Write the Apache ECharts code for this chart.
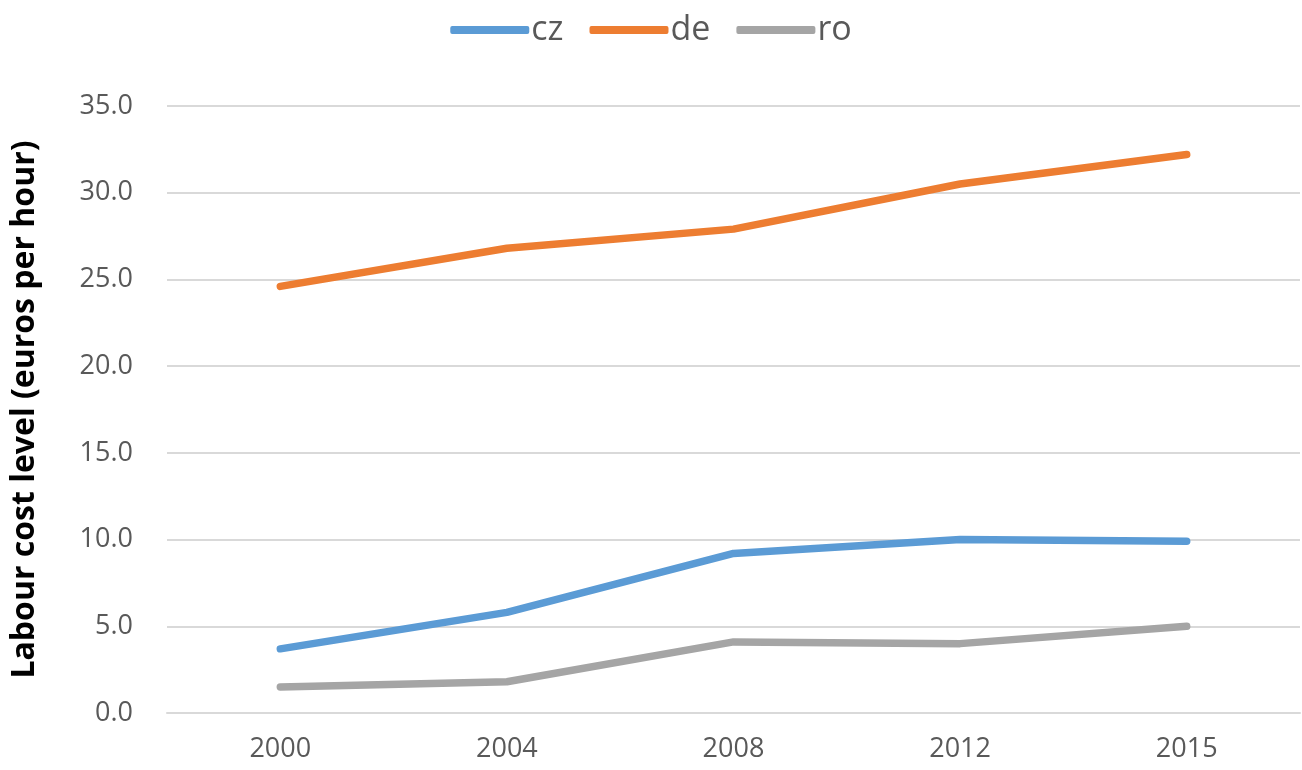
<!DOCTYPE html>
<html>
<head>
<meta charset="utf-8">
<script src="https://cdn.jsdelivr.net/npm/echarts@6/dist/echarts.min.js"></script>
<style>
html,body{margin:0;padding:0;background:#fff;}
#chart{width:1302px;height:770px;}
</style>
</head>
<body>
<div id="chart"></div>
<script>
const categories = ['2000', '2004', '2008', '2012', '2015'];
const cz = [3.7, 5.8, 9.2, 10.0, 9.9];
const de = [24.6, 26.8, 27.9, 30.5, 32.2];
const ro = [1.5, 1.8, 4.1, 4.0, 5.0];
const yTicks = { min: 0, max: 35, interval: 5 };

const FONT = '"Open Sans", "Liberation Sans", sans-serif';
const chart = echarts.init(document.getElementById('chart'), null, { renderer: 'canvas' });

function lineSeries(name, data, color) {
  return {
    name: name,
    type: 'line',
    data: data,
    showSymbol: false,
    symbol: 'none',
    smooth: false,
    lineStyle: { color: color, width: 7.5, cap: 'round', join: 'round' },
    itemStyle: { color: color },
    animation: false
  };
}

chart.setOption({
  backgroundColor: '#ffffff',
  animation: false,
  legend: {
    top: 8,
    left: 'center',
    icon: 'roundRect',
    itemWidth: 79,
    itemHeight: 8,
    itemGap: 26,
    textStyle: { fontFamily: FONT, fontSize: 34, color: '#595959', padding: [0, 0, 0, -3] },
    data: ['cz', 'de', 'ro']
  },
  grid: { left: 167, right: 2, top: 106, bottom: 57, containLabel: false },
  xAxis: {
    type: 'category',
    data: categories,
    boundaryGap: true,
    axisLine: { show: true, lineStyle: { color: '#D9D9D9', width: 2 } },
    axisTick: { show: false },
    axisLabel: { fontFamily: FONT, fontSize: 27, color: '#595959', margin: 23 }
  },
  yAxis: {
    type: 'value',
    min: yTicks.min,
    max: yTicks.max,
    interval: yTicks.interval,
    name: 'Labour cost level (euros per hour)',
    nameLocation: 'middle',
    nameGap: 126,
    nameRotate: 90,
    nameTextStyle: { fontFamily: FONT, fontSize: 32, fontWeight: 'bold', color: '#000000' },
    axisLine: { show: false },
    axisTick: { show: false },
    axisLabel: {
      fontFamily: FONT, fontSize: 27, color: '#595959', margin: 34,
      formatter: v => v.toFixed(1)
    },
    splitLine: { show: true, lineStyle: { color: '#D9D9D9', width: 2 } }
  },
  series: [
    lineSeries('cz', cz, '#5B9BD5'),
    lineSeries('de', de, '#ED7D31'),
    lineSeries('ro', ro, '#A5A5A5')
  ]
});
</script>
</body>
</html>
